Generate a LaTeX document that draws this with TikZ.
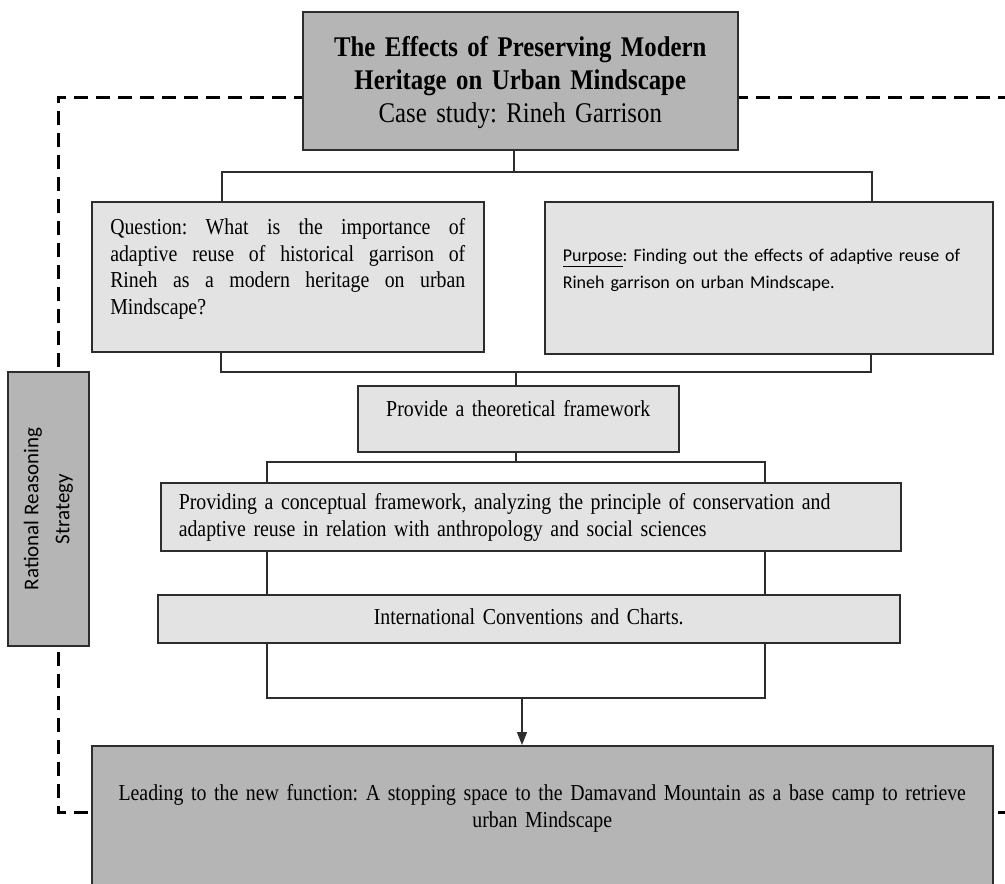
\documentclass[tikz,border=0pt]{standalone}
\usepackage{fontspec}
% narrow, tall serif face for the box texts
\setmainfont{Liberation Serif}[FakeStretch=0.87]
\newfontfamily\calibri{Carlito}
\usetikzlibrary{arrows.meta,backgrounds}

\definecolor{darkfill}{RGB}{181,181,181}
\definecolor{lightfill}{RGB}{227,227,227}
\definecolor{framegray}{RGB}{45,45,45}

\begin{document}
\frenchspacing
\begin{tikzpicture}[x=1pt,y=-1pt,
  box/.style={draw=framegray, line width=1.5pt, inner sep=0pt, anchor=north west},
  darkbox/.style={box, fill=darkfill},
  lightbox/.style={box, fill=lightfill},
  serif/.style={font=\fontsize{22.8}{26.6}\selectfont},
  sans/.style={font=\calibri\fontsize{18}{27}\selectfont},
  link/.style={draw=framegray, line width=1.3pt},
  stem/.style={draw=framegray, line width=2pt},
  arrowlink/.style={link, -{Triangle[length=13pt,width=10pt]}},
  strategyline/.style={draw=black, line width=3pt, dash pattern=on 14pt off 8pt},
]
\useasboundingbox (0,0) rectangle (1005,884);
\clip (0,0) rectangle (1005,884);

% title block
\node[darkbox, text width=435pt, align=center,
      font=\fontsize{28.5}{33}\selectfont,
      text height=45pt, text depth=93pt] (title) at (302,11)
  {\textbf{The Effects of Preserving Modern}\\
   \textbf{Heritage on Urban Mindscape}\\
   Case study: Rineh Garrison};

% research question and purpose
\node[lightbox, serif, text width=355pt, align=justify, inner xsep=18.5pt,
      text height=33pt, text depth=117pt] (question) at (91,201)
  {Question: What is the importance of\linebreak
   adaptive reuse of historical garrison of\linebreak
   Rineh as a modern heritage on urban\linebreak
   Mindscape?};

\node[lightbox, sans, text width=412pt, align=left, inner xsep=18pt,
      text height=60pt, text depth=92pt] (purpose) at (544,201)
  {\underline{Purpose}: Finding out the effects of adaptive reuse of\\
   Rineh garrison on urban Mindscape.};

% theoretical part
\node[lightbox, serif, text width=321pt, align=center,
      text height=31pt, text depth=35pt] (provide) at (357,385)
  {Provide a theoretical framework};

\node[lightbox, serif, text width=704pt, align=left, inner xsep=18pt,
      text height=27pt, text depth=41pt] (concept) at (160,482)
  {Providing a conceptual framework, analyzing the principle of conservation and\\
   adaptive reuse in relation with anthropology and social sciences};

\node[lightbox, serif, text width=742pt, align=center,
      text height=30pt, text depth=18pt] (intl) at (157,594)
  {International Conventions and Charts.};

% outcome
\node[darkbox, serif, text width=881pt, align=center, inner xsep=10pt,
      text height=55pt, text depth=150pt] (result) at (91,745)
  {Leading to the new function: A stopping space to the Damavand Mountain as a base camp to retrieve\\
   urban Mindscape};

% strategy label
\node[darkbox, anchor=center, rotate=90, minimum width=274pt, minimum height=81pt,
      align=center, font=\calibri\fontsize{21}{31}\selectfont] (strategy) at (48.5,509)
  {Rational Reasoning\\Strategy};

% junction points of the connectors
\coordinate (ft) at (514,172);
\coordinate (fq) at (222,172);
\coordinate (fp) at (872,172);
\coordinate (jq) at (221,372);
\coordinate (jp) at (871,372);
\coordinate (jm) at (516,372);
\coordinate (fl) at (267,462);
\coordinate (fr) at (765,462);
\coordinate (br) at (765,698);
\coordinate (ar) at (522,698);

% dashed strategy frame
\coordinate (cornerTL) at (58,97);
\coordinate (endTR) at (1005,97);
\coordinate (cornerBL) at (58,812);
\coordinate (endBR) at (1005,812);

\begin{pgfonlayer}{background}
  \draw[strategyline, dash phase=18pt] (cornerTL |- strategy.east) -- (cornerTL) -- (endTR);
  \draw[strategyline, dash phase=17pt] (cornerBL |- strategy.west) -- (cornerBL) -- (endBR);
\end{pgfonlayer}

% connectors
\draw[stem] (title.south -| ft) -- (ft);
\draw[link] (question.north -| fq) |- (fp) -- (purpose.north -| fp);
\draw[link] (question.south -| jq) |- (jp) -- (purpose.south -| jp);
\draw[link] (jm) -- (provide.north -| jm);
\draw[link] (provide.south -| jm) -- (jm |- fl);
\draw[link] (concept.north -| fl) |- (fr) -- (concept.north -| fr);
\draw[link] (concept.south -| fl) -- (intl.north -| fl);
\draw[link] (concept.south -| fr) -- (intl.north -| fr);
\draw[link] (intl.south -| fl) |- (br) -- (intl.south -| fr);
\draw[arrowlink] (ar) -- (result.north -| ar);
\end{tikzpicture}
\end{document}
